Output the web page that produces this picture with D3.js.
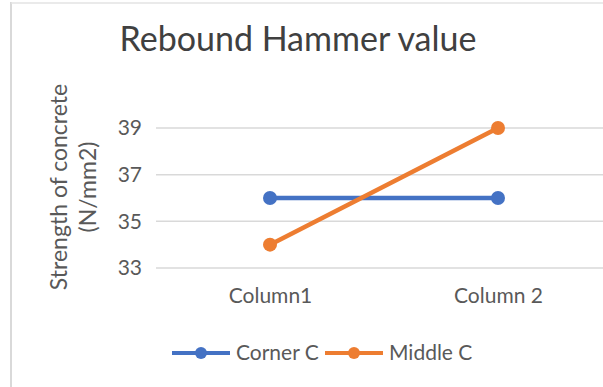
<!DOCTYPE html>
<html>
<head>
<meta charset="utf-8">
<script src="https://cdn.jsdelivr.net/npm/d3@7"></script>
<style>
  html, body { margin: 0; padding: 0; background: #fff; }
  svg { display: block; }
  text { font-family: Lato, "Open Sans", sans-serif; }
</style>
</head>
<body>
<svg id="chart" width="603" height="387"></svg>
<script>
const categories = ["Column1", "Column 2"];
const cornerC = [36, 36];
const middleC = [34, 39];
const yTicks = [33, 35, 37, 39];
const seriesNames = ["Corner C", "Middle C"];
const seriesColors = ["#4472C4", "#ED7D31"];

const svg = d3.select("#chart");
const W = 603, H = 387;
const FONT = "Lato, 'Open Sans', sans-serif";

// chart frame (left and top edges)
svg.append("line").attr("x1", 11).attr("x2", 11).attr("y1", 2).attr("y2", H)
  .attr("stroke", "#d9d9d9").attr("stroke-width", 2);
svg.append("line").attr("x1", 11).attr("x2", W).attr("y1", 3).attr("y2", 3)
  .attr("stroke", "#e3e3e3").attr("stroke-width", 1.5);

const x = d3.scalePoint().domain(categories).range([156, 612]).padding(0.5);
const y = d3.scaleLinear().domain([33, 39]).range([268, 128]);

// gridlines
svg.append("g").selectAll("line").data(yTicks).join("line")
  .attr("x1", 156).attr("x2", W)
  .attr("y1", d => y(d)).attr("y2", d => y(d))
  .attr("stroke", "#d9d9d9").attr("stroke-width", 1.5);

// y axis tick labels
const yAxis = d3.axisLeft(y).tickValues(yTicks).tickFormat(d3.format("d"))
  .tickSize(0).tickPadding(0);
const gy = svg.append("g").attr("transform", "translate(142,0)").call(yAxis);
gy.select(".domain").remove();
gy.selectAll("text").attr("fill", "#595959").style("font-size", "21px")
  .style("font-family", FONT);

// x axis category labels
const xAxis = d3.axisBottom(x).tickSize(0).tickPadding(0);
const gx = svg.append("g").attr("transform", "translate(0,288)").call(xAxis);
gx.select(".domain").remove();
gx.selectAll("text").attr("fill", "#595959").style("font-size", "21px")
  .style("font-family", FONT);

// title
svg.append("text").attr("x", 298).attr("y", 51).attr("text-anchor", "middle")
  .attr("fill", "#404040").style("font-size", "34px").text("Rebound Hammer value");

// y axis title
const yt = svg.append("text").attr("transform", "translate(67,187) rotate(-90)")
  .attr("text-anchor", "middle").attr("fill", "#595959").style("font-size", "23px");
yt.append("tspan").attr("x", 0).attr("dy", 0).text("Strength of concrete");
yt.append("tspan").attr("x", 0).attr("dy", 29).text("(N/mm2)");

// series lines and markers
const series = [cornerC, middleC];
const line = d3.line().x((d, i) => x(categories[i])).y(d => y(d));
series.forEach((vals, si) => {
  svg.append("path").datum(vals).attr("d", line)
    .attr("fill", "none").attr("stroke", seriesColors[si])
    .attr("stroke-width", 4.5).attr("stroke-linecap", "round");
  svg.append("g").selectAll("circle").data(vals).join("circle")
    .attr("cx", (d, i) => x(categories[i])).attr("cy", d => y(d))
    .attr("r", 7).attr("fill", seriesColors[si]);
});

// legend
const legendItems = [
  { x0: 172, name: seriesNames[0], color: seriesColors[0] },
  { x0: 325, name: seriesNames[1], color: seriesColors[1] }
];
const lg = svg.append("g").attr("transform", "translate(0,353)");
legendItems.forEach(it => {
  lg.append("line").attr("x1", it.x0).attr("x2", it.x0 + 58).attr("y1", 0).attr("y2", 0)
    .attr("stroke", it.color).attr("stroke-width", 4);
  lg.append("circle").attr("cx", it.x0 + 29).attr("cy", 0).attr("r", 6).attr("fill", it.color);
  lg.append("text").attr("x", it.x0 + 64).attr("y", 7).attr("fill", "#595959")
    .style("font-size", "21px").text(it.name);
});
</script>
</body>
</html>
